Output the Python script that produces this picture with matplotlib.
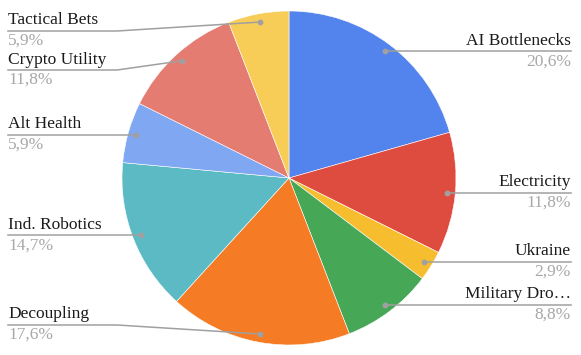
import numpy as np
import matplotlib
matplotlib.use('Agg')
from matplotlib import pyplot as plt

# slice data (counts out of 34)
labels = ['AI Bottlenecks', 'Electricity', 'Ukraine', 'Military Dro…', 'Decoupling',
          'Ind. Robotics', 'Alt Health', 'Crypto Utility', 'Tactical Bets']
values = [7, 4, 1, 3, 6, 5, 2, 4, 2]
pct_text = ['20,6%', '11,8%', '2,9%', '8,8%', '17,6%', '14,7%', '5,9%', '11,8%', '5,9%']
colors = ['#5383ec', '#de4c3f', '#f6be2f', '#46a756', '#f57b24',
          '#5bbac4', '#80a8f2', '#e57c72', '#f7cd57']

W, H = 581, 355
cx, cy, r = 289, H - 178, 167

fig = plt.figure(figsize=(W / 100, H / 100), dpi=100)
ax = fig.add_axes([0, 0, 1, 1])

wedges, _ = ax.pie(values, colors=colors, startangle=90, counterclock=False,
                   center=(cx, cy), radius=r,
                   wedgeprops=dict(edgecolor='white', linewidth=0.4))
ax.set_xlim(0, W)
ax.set_ylim(0, H)
ax.set_aspect('equal')
ax.axis('off')

# label line height where it differs from the dot height (pixels from top)
label_y_px = {'Decoupling': 325, 'Crypto Utility': 70, 'Tactical Bets': 31}

line_col = '#a0a0a0'
total = sum(values)
start = 0.0
for lab, v, pct in zip(labels, values, pct_text):
    mid = (start + v / 2) / total * 2 * np.pi
    start += v
    dx = cx + 0.95 * r * np.sin(mid)
    dy = cy + 0.95 * r * np.cos(mid)
    ly = H - label_y_px[lab] if lab in label_y_px else dy
    right = dx > cx
    if right:
        xs, ys = [dx, 571], [dy, ly]
        tx, ha = 571, 'right'
    else:
        if abs(ly - dy) > 1:
            xs, ys = [8, 117, dx], [ly, ly, dy]
        else:
            xs, ys = [8, dx], [ly, ly]
        tx, ha = 8, 'left'
    ax.plot(xs, ys, color=line_col, lw=1.1, zorder=3)
    ax.plot([dx], [dy], 'o', color=line_col, ms=3.2, zorder=4)
    ax.text(tx, ly + 2.5, lab, ha=ha, va='bottom', fontsize=12.5,
            family='Liberation Serif', color='#1a1a1a')
    ax.text(tx, ly - 2, pct, ha=ha, va='top', fontsize=12.5,
            family='Liberation Serif', color='#a8a8a8')

plt.savefig('out.png', dpi=100)
